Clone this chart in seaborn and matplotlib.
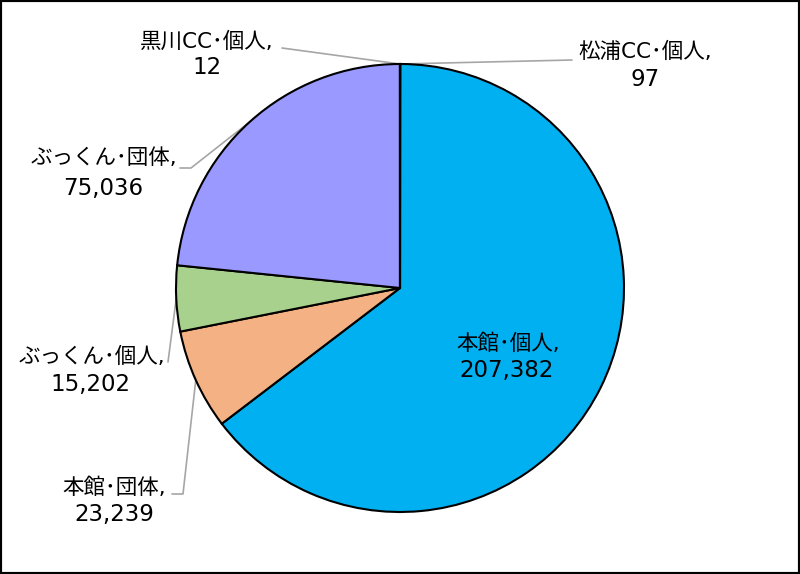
import matplotlib
matplotlib.use("Agg")
import matplotlib.pyplot as plt
import seaborn as sns
import numpy as np

# データ（時計回り、12時の位置から）
labels = ["松浦CC･個人", "本館･個人", "本館･団体", "ぶっくん･個人", "ぶっくん･団体", "黒川CC･個人"]
values = [97, 207382, 23239, 15202, 75036, 12]
colors = ["#00B0F0", "#00B0F0", "#F4B183", "#A9D18E", "#9999FF", "#9999FF"]

W, H = 800, 574
CX, CY, R = 400, 286, 224

sns.set_theme(style="white")
plt.rcParams["font.family"] = ["DejaVu Sans", "Noto Sans CJK JP"]

fig = plt.figure(figsize=(8, 5.74), dpi=100)
ax = fig.add_axes([0, 0, 1, 1])
ax.set_xticks([])
ax.set_yticks([])
for sp in ax.spines.values():
    sp.set_color("black")
    sp.set_linewidth(3)

wedges, _ = ax.pie(values, colors=colors, startangle=90, counterclock=False,
                   center=(CX, CY), radius=R, frame=True,
                   wedgeprops=dict(edgecolor="black", linewidth=1.5))
ax.set_xlim(0, W)
ax.set_ylim(0, H)
ax.set_aspect("equal")

def edge_point(w):
    a = np.deg2rad((w.theta1 + w.theta2) / 2)
    return CX + R * np.cos(a), CY + R * np.sin(a)

# ラベル位置（ピクセル座標：名前行の中心, 数値行の中心）と引き出し線の始点
label_pos = {
    "松浦CC･個人": ((645, 52), (645, 80), [(572, 60)]),
    "本館･個人": ((508, 344), (507, 371), None),
    "本館･団体": ((114, 488), (114, 515), [(172, 494), (183, 494)]),
    "ぶっくん･個人": ((92, 357), (90, 384), [(168, 362)]),
    "ぶっくん･団体": ((104, 158), (103, 188), [(180, 168), (191, 168)]),
    "黒川CC･個人": ((207, 42), (207, 68), [(282, 48)]),
}

for w, lab, val in zip(wedges, labels, values):
    (x1, y1), (x2, y2), leader = label_pos[lab]
    ax.text(x1, H - y1, f"{lab},", ha="center", va="center", fontsize=15.5, color="black")
    ax.text(x2, H - y2, f"{val:,}", ha="center", va="center", fontsize=16.5, color="black")
    if leader:
        ex, ey = edge_point(w)
        xs = [p[0] for p in leader] + [ex]
        ys = [H - p[1] for p in leader] + [ey]
        ax.plot(xs, ys, color="#A6A6A6", linewidth=1.2, zorder=0.5)

fig.savefig("out.png", dpi=100)
